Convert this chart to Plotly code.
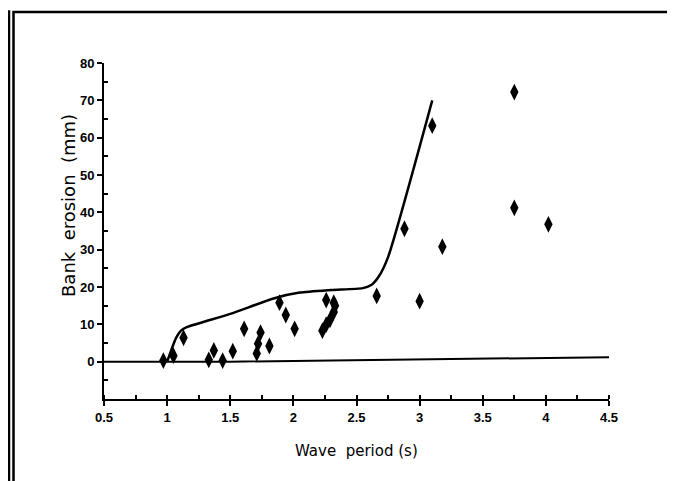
import plotly.graph_objects as go

# Measured points (wave period in s, bank erosion in mm)
period = [0.97, 1.05, 1.13, 1.33, 1.37, 1.44, 1.52, 1.61, 1.71, 1.72, 1.74, 1.81,
          1.89, 1.94, 2.01, 2.23, 2.26, 2.29, 2.26, 2.32, 2.32, 2.33, 2.66, 2.88,
          3.0, 3.1, 3.18, 3.75, 3.75, 4.02]
erosion = [0.3, 1.6, 6.4, 0.5, 3.0, 0.3, 2.8, 8.8, 2.2, 4.8, 7.8, 4.2,
           15.8, 12.5, 8.8, 8.3, 9.9, 11.2, 16.5, 15.8, 13.3, 15.0, 17.6, 35.6,
           16.2, 63.2, 30.8, 72.2, 41.2, 36.8]

# Envelope curve
curve_x = [1.0, 1.03, 1.07, 1.11, 1.16, 1.5, 1.85, 2.05, 2.3, 2.55, 2.62, 2.68, 2.75, 3.1]
curve_y = [0.0, 2.8, 6.3, 8.3, 9.3, 12.8, 17.0, 18.5, 19.2, 19.7, 20.6, 23.0, 28.0, 70.0]

# Zero reference line
base_x = [0.5, 1.5, 4.5]
base_y = [0.0, 0.0, 1.2]

x_ticks = [0.5, 1, 1.5, 2, 2.5, 3, 3.5, 4, 4.5]
x_labels = ["0.5", "1", "1.5", "2", "2.5", "3", "3.5", "4", "4.5"]
y_ticks = [0, 10, 20, 30, 40, 50, 60, 70, 80]

fig = go.Figure()

fig.add_trace(go.Scatter(x=base_x, y=base_y, mode="lines",
                         line=dict(color="black", width=2), hoverinfo="skip"))
fig.add_trace(go.Scatter(x=curve_x, y=curve_y, mode="lines",
                         line=dict(color="black", width=2.5, shape="spline", smoothing=0.6)))
fig.add_trace(go.Scatter(x=period, y=erosion, mode="markers",
                         marker=dict(symbol="diamond-tall", size=12, color="black")))

# page body has an 8px margin, so the figure is drawn 8px in from the corner
OFF = 8
FW, FH = 675 - OFF, 481 - OFF
L, R, T, B = 104 - OFF, 609 - OFF, 63 - OFF, 399 - OFF
W, H = R - L, B - T


def px(v):  # page pixel x -> paper
    return (v - OFF - L) / W


def py(v):  # page pixel y -> paper
    return (B - (v - OFF)) / H


fig.add_shape(type="rect", xref="paper", yref="paper",
              x0=px(-20), x1=px(9), y0=py(11.5), y1=py(520),
              line=dict(color="black", width=2.5))
fig.add_shape(type="rect", xref="paper", yref="paper",
              x0=px(13.5), x1=px(670), y0=py(12), y1=py(520),
              line=dict(color="black", width=2.5))

fig.add_annotation(text="Wave  period (s)", xref="paper", yref="paper",
                   x=px(356), y=py(451), showarrow=False,
                   xanchor="center", yanchor="middle",
                   font=dict(family="DejaVu Sans", size=15, color="black"))
fig.add_annotation(text="Bank  erosion  (mm)", xref="paper", yref="paper",
                   x=px(68), y=py(206), showarrow=False, textangle=-90,
                   xanchor="center", yanchor="middle",
                   font=dict(family="DejaVu Sans", size=18, color="black"))

tickfont = dict(family="Liberation Sans", size=13, color="black", weight="bold")

fig.update_xaxes(range=[0.5, 4.5], tickvals=x_ticks, ticktext=x_labels,
                 showgrid=False, zeroline=False, showline=True, linecolor="black",
                 linewidth=2, ticks="outside", ticklen=5, tickwidth=2, tickcolor="black",
                 minor=dict(dtick=0.25, ticks="inside", ticklen=4, tickwidth=1.5,
                            tickcolor="black"),
                 tickfont=tickfont)
fig.update_yaxes(range=[-10, 80], tickvals=y_ticks,
                 showgrid=False, zeroline=False, showline=True, linecolor="black",
                 linewidth=2, ticks="outside", ticklen=5, tickwidth=2, tickcolor="black",
                 minor=dict(tickvals=[-5, 5, 15, 25, 35, 45, 55, 65, 75], ticks="inside",
                            ticklen=4, tickwidth=1.5, tickcolor="black"),
                 tickfont=tickfont)

fig.update_layout(width=FW, height=FH, showlegend=False,
                  margin=dict(l=L, r=FW - R, t=T, b=FH - B),
                  plot_bgcolor="white", paper_bgcolor="white")

fig.write_html("out.html")
